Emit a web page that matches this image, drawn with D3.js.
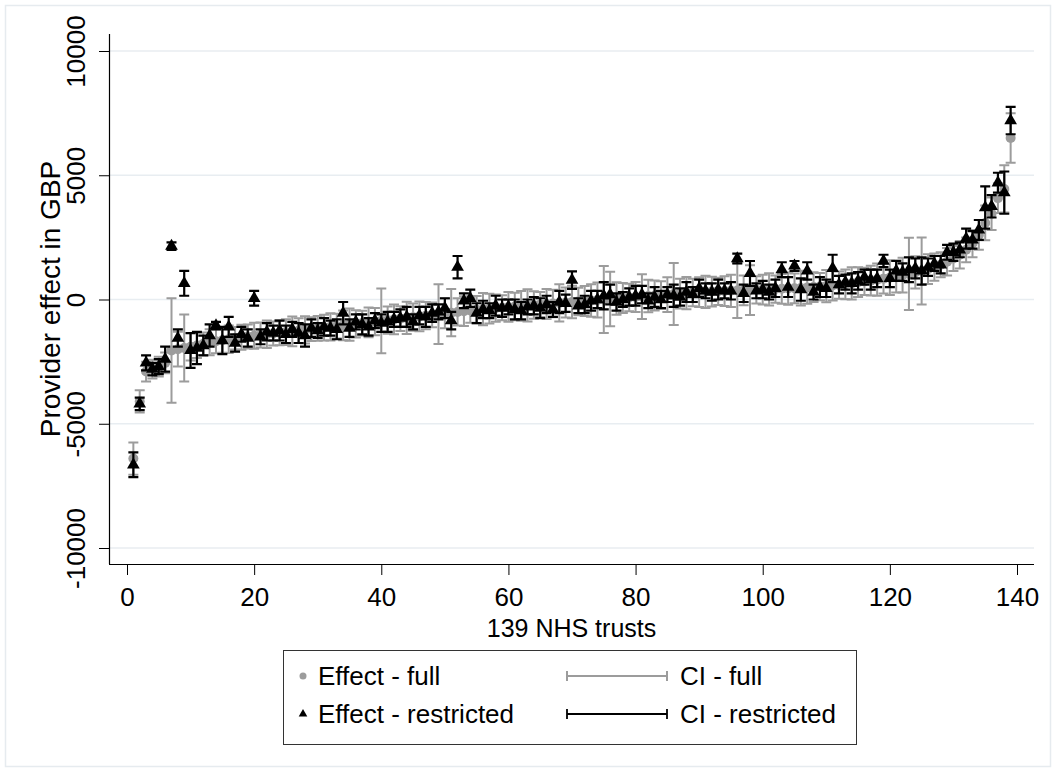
<!DOCTYPE html>
<html>
<head>
<meta charset="utf-8">
<script src="https://d3js.org/d3.v7.min.js"></script>
<style>
  body { margin: 0; background: #fff; }
  svg text { font-family: "Liberation Sans", Arial, sans-serif; fill: #000; }
</style>
</head>
<body>
<div class="chart"></div>
<script>
// provider effects, trusts sorted by full-model effect (1..139)
const fullEffect = [
  -6400, -4100, -2900, -2800, -2700, -2550, -2050, -2000, -1950, -1900,
  -1850, -1780, -1720, -1680, -1640, -1600, -1560, -1520, -1490, -1460,
  -1430, -1400, -1370, -1340, -1310, -1280, -1250, -1220, -1190, -1160,
  -1130, -1100, -1070, -1040, -1010, -980, -950, -920, -890, -860,
  -830, -800, -770, -740, -710, -680, -650, -620, -590, -560,
  -530, -500, -470, -440, -410, -390, -370, -350, -330, -300,
  -280, -260, -240, -220, -200, -180, -160, -140, -120, -100,
  -80, -60, -40, -20, 0, 20, 40, 60, 80, 100,
  120, 140, 160, 180, 200, 220, 240, 260, 280, 300,
  310, 320, 330, 340, 350, 360, 370, 380, 390, 400,
  410, 420, 430, 440, 450, 460, 480, 500, 520, 540,
  560, 580, 610, 650, 700, 730, 760, 800, 840, 880,
  930, 980, 1030, 1090, 1150, 1220, 1300, 1400, 1520, 1650,
  1800, 2000, 2250, 2600, 3080, 3450, 4080, 4450, 6500
];
const fullCiHalf = [
  650, 450, 400, 380, 400, 420, 2100, 700, 1350, 550,
  500, 450, 520, 480, 500, 550, 450, 500, 480, 520,
  500, 550, 480, 500, 520, 600, 500, 550, 480, 500,
  520, 550, 500, 600, 650, 550, 500, 600, 550, 1300,
  550, 600, 500, 650, 550, 600, 550, 500, 1200, 600,
  950, 550, 600, 500, 550, 650, 600, 550, 500, 600,
  550, 600, 650, 550, 500, 600, 550, 750, 600, 650,
  550, 600, 650, 700, 1350, 1100, 650, 600, 550, 600,
  900, 650, 600, 550, 700, 1250, 600, 650, 550, 600,
  650, 600, 550, 600, 650, 1100, 600, 1000, 550, 600,
  650, 550, 600, 650, 600, 700, 650, 600, 550, 650,
  600, 550, 600, 650, 600, 550, 600, 650, 600, 700,
  650, 700, 1450, 650, 1350, 600, 550, 500, 550, 500,
  550, 500, 550, 600, 700, 650, 600, 950, 1000
];
const restrEffect = [
  -6650, -4200, -2550, -2800, -2700, -2400, 2150, -1550, 650, -2050,
  -1950, -1850, -1450, -1050, -1650, -1100, -1750, -1400, -1550, 50,
  -1500, -1300, -1350, -1250, -1400, -1200, -1350, -1450, -1150, -1250,
  -1100, -1150, -1200, -550, -1150, -900, -1000, -1100, -850, -950,
  -900, -800, -750, -700, -900, -650, -700, -550, -500, -350,
  -850, 1300, -50, 50, -550, -400, -450, -250, -350, -300,
  -400, -450, -300, -250, -350, -200, -400, -100, -150, 780,
  -250, -200, -50, 0, 150, 200, -100, 0, 100, 150,
  200, -50, 100, 0, 200, 150, 100, 300, 200, 450,
  350, 300, 400, 350, 350, 1650, 250, 1050, 350, 400,
  300, 450, 1200, 500, 1350, 400, 1150, 300, 500, 450,
  1250, 600, 700, 650, 750, 900, 800, 850, 1550, 850,
  1150, 1100, 1200, 1250, 1150, 1300, 1450, 1400, 1900, 1900,
  2000, 2450, 2400, 2800, 3700, 3750, 4700, 4300, 7200
];
const restrCiHalf = [
  500, 250, 300, 250, 300, 500, 150, 350, 500, 700,
  650, 400, 450, 150, 550, 400, 350, 300, 350, 300,
  300, 350, 300, 400, 350, 300, 400, 450, 350, 300,
  350, 300, 400, 450, 350, 300, 400, 350, 300, 350,
  400, 300, 350, 400, 300, 350, 400, 350, 300, 400,
  350, 450, 300, 350, 400, 350, 300, 400, 350, 300,
  400, 350, 300, 350, 400, 350, 300, 450, 350, 350,
  300, 350, 400, 350, 550, 400, 350, 300, 350, 400,
  350, 300, 400, 350, 300, 450, 350, 400, 300, 350,
  300, 350, 400, 300, 350, 200, 350, 500, 300, 350,
  300, 350, 300, 400, 200, 450, 350, 300, 400, 350,
  550, 350, 300, 400, 350, 300, 400, 350, 250, 350,
  400, 350, 500, 400, 550, 350, 300, 350, 300, 350,
  300, 400, 350, 400, 850, 450, 400, 850, 550
];

const xTicks = [0, 20, 40, 60, 80, 100, 120, 140];
const yTicks = [-10000, -5000, 0, 5000, 10000];
const xTitle = "139 NHS trusts";
const yTitle = "Provider effect in GBP";
const legendMarkers = ["Effect - full", "Effect - restricted"];
const legendLines = ["CI - full", "CI - restricted"];

const width = 1056;
const height = 772;
const plot = { left: 109, right: 1034, top: 34, bottom: 564 };
const grey = "#9c9c9c";
const fontSize = 26;

let svg = d3
  .select(".chart")
  .append("svg")
  .attr("width", width)
  .attr("height", height);

// faint outer frame of the graph region
svg.append("rect")
  .attr("x", 5.5)
  .attr("y", 5.5)
  .attr("width", width - 11)
  .attr("height", height - 11)
  .attr("fill", "none")
  .attr("stroke", "#e6ebef")
  .attr("stroke-width", 1.5);

const xScale = d3.scaleLinear().domain([0, 140]).range([127, 1017]);
const yScale = d3.scaleLinear().domain([-10000, 10000]).range([548, 51]);

// gridlines
svg.append("g")
  .selectAll("line")
  .data(yTicks)
  .enter().append("line")
    .attr("x1", plot.left)
    .attr("x2", plot.right)
    .attr("y1", d => yScale(d))
    .attr("y2", d => yScale(d))
    .attr("stroke", "#e8edf1")
    .attr("stroke-width", 1.5);

// y axis, labels turned on their side (plain hyphen for negatives)
let yAxis = svg.append("g")
  .attr("transform", `translate(${plot.left},0)`)
  .call(d3.axisLeft(yScale).tickValues(yTicks).tickSize(10).tickSizeOuter(0).tickFormat(d => String(d)));
yAxis.select(".domain").remove();
yAxis.selectAll(".tick line").attr("stroke", "#000").attr("stroke-width", 1);
yAxis.selectAll(".tick text")
  .attr("transform", "rotate(-90)")
  .attr("x", 0)
  .attr("y", -24)
  .attr("dy", null)
  .attr("text-anchor", "middle")
  .style("font-size", fontSize + "px");

let xAxis = svg.append("g")
  .attr("transform", `translate(0,${plot.bottom})`)
  .call(d3.axisBottom(xScale).tickValues(xTicks).tickSize(11).tickSizeOuter(0));
xAxis.select(".domain").remove();
xAxis.selectAll(".tick line").attr("stroke", "#000").attr("stroke-width", 1);
xAxis.selectAll(".tick text")
  .attr("y", 42)
  .attr("dy", null)
  .style("font-size", fontSize + "px");

// axis lines
svg.append("line")
  .attr("x1", plot.left + 0.5).attr("x2", plot.left + 0.5)
  .attr("y1", plot.top).attr("y2", plot.bottom)
  .attr("stroke", "#000").attr("stroke-width", 1.2);
svg.append("line")
  .attr("x1", plot.left).attr("x2", plot.right)
  .attr("y1", plot.bottom + 0.5).attr("y2", plot.bottom + 0.5)
  .attr("stroke", "#000").attr("stroke-width", 1.2);

svg.append("text")
  .attr("x", (plot.left + plot.right) / 2)
  .attr("y", 637)
  .attr("text-anchor", "middle")
  .style("font-size", "25px")
  .text(xTitle);
svg.append("text")
  .attr("transform", `translate(60,${(plot.top + plot.bottom) / 2}) rotate(-90)`)
  .attr("text-anchor", "middle")
  .style("font-size", "28px")
  .text(yTitle);

// error bar: vertical line with caps
const capPath = (cx, lo, hi, w) =>
  `M${cx - w},${lo}H${cx + w}M${cx},${lo}V${hi}M${cx - w},${hi}H${cx + w}`;

const fullData = fullEffect.map((v, i) => ({ trust: i + 1, v: v, h: fullCiHalf[i] }));
const restrData = restrEffect.map((v, i) => ({ trust: i + 1, v: v, h: restrCiHalf[i] }));

svg.append("g")
  .selectAll("path")
  .data(fullData)
  .enter().append("path")
    .attr("d", d => capPath(xScale(d.trust), yScale(d.v - d.h), yScale(d.v + d.h), 5))
    .attr("fill", "none")
    .attr("stroke", grey)
    .attr("stroke-width", 2);

svg.append("g")
  .selectAll("circle")
  .data(fullData)
  .enter().append("circle")
    .attr("cx", d => xScale(d.trust))
    .attr("cy", d => yScale(d.v))
    .attr("r", 5)
    .attr("fill", grey);

svg.append("g")
  .selectAll("path")
  .data(restrData)
  .enter().append("path")
    .attr("d", d => capPath(xScale(d.trust), yScale(d.v - d.h), yScale(d.v + d.h), 5))
    .attr("fill", "none")
    .attr("stroke", "#000")
    .attr("stroke-width", 2.2);

svg.append("g")
  .selectAll("path")
  .data(restrData)
  .enter().append("path")
    .attr("transform", d => `translate(${xScale(d.trust)},${yScale(d.v)})`)
    .attr("d", d3.symbol().type(d3.symbolTriangle).size(70))
    .attr("fill", "#000");

// legend
let legend = svg.append("g");
legend.append("rect")
  .attr("x", 283.5)
  .attr("y", 650.5)
  .attr("width", 573)
  .attr("height", 94)
  .attr("fill", "#fff")
  .attr("stroke", "#333")
  .attr("stroke-width", 1);

const rowY = [676, 714];
legend.append("circle")
  .attr("cx", 303).attr("cy", rowY[0]).attr("r", 3.5).attr("fill", grey);
legend.append("path")
  .attr("transform", `translate(303,${rowY[1]})`)
  .attr("d", d3.symbol().type(d3.symbolTriangle).size(32))
  .attr("fill", "#000");

legend.selectAll(".mk-label")
  .data(legendMarkers)
  .enter().append("text")
    .attr("class", "mk-label")
    .attr("x", 318)
    .attr("y", (d, i) => rowY[i] + 9)
    .style("font-size", fontSize + "px")
    .text(d => d);

legend.selectAll(".ci-sample")
  .data(legendLines)
  .enter().append("path")
    .attr("class", "ci-sample")
    .attr("d", (d, i) => `M567,${rowY[i] - 5}V${rowY[i] + 5}M567,${rowY[i]}H667M667,${rowY[i] - 5}V${rowY[i] + 5}`)
    .attr("fill", "none")
    .attr("stroke", (d, i) => i === 0 ? grey : "#000")
    .attr("stroke-width", (d, i) => i === 0 ? 2 : 1.8);

legend.selectAll(".ci-label")
  .data(legendLines)
  .enter().append("text")
    .attr("class", "ci-label")
    .attr("x", 680)
    .attr("y", (d, i) => rowY[i] + 9)
    .style("font-size", fontSize + "px")
    .text(d => d);
</script>
</body>
</html>
